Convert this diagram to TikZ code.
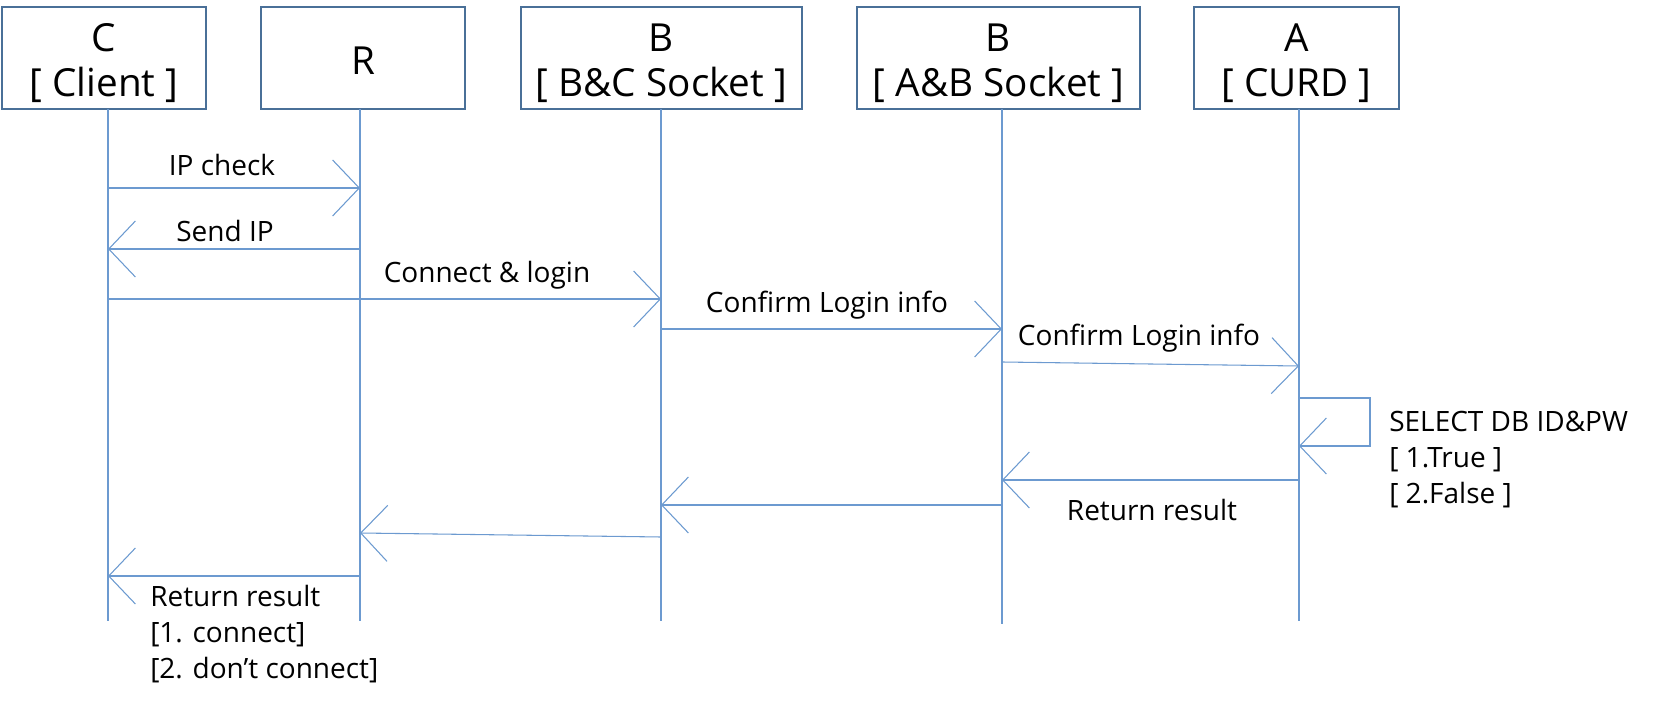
\documentclass[tikz,border=0pt]{standalone}
\usepackage{fontspec}
\setmainfont{Open Sans}
\usetikzlibrary{arrows.meta}
\definecolor{boxc}{HTML}{4A7098}
\definecolor{linec}{HTML}{6C9AD0}
\begin{document}
\begin{tikzpicture}[x=0.75pt,y=-0.75pt,
 actor/.style={draw=boxc, line width=1.6pt, fill=white, inner sep=0pt, minimum height=102*0.75pt},
 actortext/.style={inner sep=0pt, align=center, font=\fontsize{29}{34}\selectfont},
 life/.style={draw=linec, line width=0.8pt},
 msg/.style={draw=linec, line width=0.8pt, -{Straight Barb[length=20pt,width=42pt,line width=0.8pt]}},
 lbl/.style={font=\fontsize{21}{27}\selectfont, inner sep=0pt, align=left}]
\useasboundingbox (0,0) rectangle (1657,702);
% actors
\node[actor, minimum width=204*0.75pt] (C) at (104,58) {};
\node[actor, minimum width=204*0.75pt] (R) at (363,58) {};
\node[actor, minimum width=281*0.75pt] (BC) at (661.5,58) {};
\node[actor, minimum width=283*0.75pt] (AB) at (998.5,58) {};
\node[actor, minimum width=205*0.75pt] (A) at (1296.5,58) {};
\node[actortext] (Ct) at ([yshift=-4pt]C.center) {C\\{}[ Client ]};
\node[actortext] (Rt) at ([yshift=-2pt]R.center) {R};
\node[actortext] (BCt) at ([yshift=-4pt]BC.center) {B\\{}[ B\&C Socket ]};
\node[actortext] (ABt) at ([yshift=-4pt]AB.center) {B\\{}[ A\&B Socket ]};
\node[actortext] (At) at ([yshift=-4pt]A.center) {A\\{}[ CURD ]};
% lifelines
\coordinate (cT) at (108,109); \coordinate (cB) at (108,621);
\coordinate (rT) at (360,109); \coordinate (rB) at (360,621);
\coordinate (bcT) at (661,109); \coordinate (bcB) at (661,621);
\coordinate (abT) at (1002,109); \coordinate (abB) at (1002,624);
\coordinate (aT) at (1299,109); \coordinate (aB) at (1299,621);
\draw[life] (cT) -- (cB);
\draw[life] (rT) -- (rB);
\draw[life] (bcT) -- (bcB);
\draw[life] (abT) -- (abB);
\draw[life] (aT) -- (aB);
% messages
\draw[msg] (cT |- 0,188) -- (rT |- 0,188);
\node[lbl] (l1) at (222,165) {IP check};
\draw[msg] (rT |- 0,249) -- (cT |- 0,249);
\node[lbl] (l2) at (225,231) {Send IP};
\draw[msg] (cT |- 0,299) -- (bcT |- 0,299);
\node[lbl] (l3) at (487,275) {Connect \& login};
\draw[msg] (bcT |- 0,329) -- (abT |- 0,329);
\node[lbl] (l4) at (827,305) {Confirm Login info};
\draw[msg] (abT |- 0,362) -- (aT |- 0,366);
\node[lbl] (l5) at (1139,338) {Confirm Login info};
% self loop
\coordinate (lp1) at (1370,398);
\coordinate (lp2) at (1370,446);
\draw[msg] (aT |- 0,398) -- (lp1) -- (lp2) -- (aT |- 0,446);
\node[lbl, anchor=west] (l6) at (1389,460) {SELECT DB ID\&PW\\{}[ 1.True ]\\{}[ 2.False ]};
% returns
\draw[msg] (aT |- 0,480) -- (abT |- 0,480);
\node[lbl] (l7) at (1152,510) {Return result};
\draw[msg] (abT |- 0,505) -- (bcT |- 0,505);
\draw[msg] (bcT |- 0,537) -- (rT |- 0,533);
\draw[msg] (rT |- 0,576) -- (cT |- 0,576);
\node[lbl, anchor=west] (l8) at (150,634) {Return result\\{}[1. connect]\\{}[2. don’t connect]};
\end{tikzpicture}
\end{document}
